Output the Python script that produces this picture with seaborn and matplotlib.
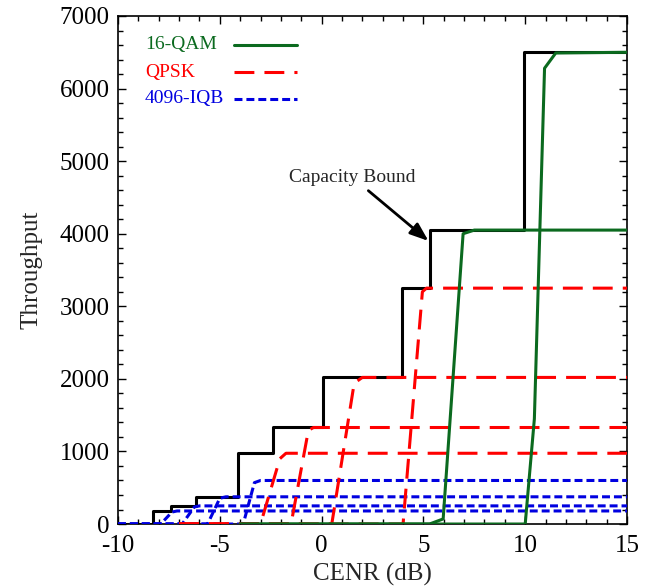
import matplotlib
matplotlib.use("Agg")
import matplotlib.pyplot as plt
import seaborn as sns
from matplotlib.ticker import MultipleLocator

# capacity bound staircase (drawn with steps-post)
cap_x = [-10, -8.3, -7.4, -6.15, -4.1, -2.4, 0.05, 3.95, 5.3, 9.95, 15]
cap_y = [0, 180, 250, 375, 975, 1330, 2020, 3250, 4050, 6500, 6500]

# 4096-IQB curves
iqb_x = [[-10, -7.9, -7.35, -7.1, 15],
         [-10, -6.85, -6.25, -6.0, 15],
         [-10, -5.6, -5.0, -4.7, 15],
         [-10, -3.85, -3.3, -3.0, 15]]
iqb_y = [[0, 0, 165, 180, 180],
         [0, 0, 235, 250, 250],
         [0, 0, 355, 375, 375],
         [0, 0, 570, 600, 600]]

# QPSK curves
qpsk_x = [[-7, -3.0, -2.05, -1.75, 15],
          [-7, -1.5, -0.65, -0.4, 15],
          [-7, 0.5, 1.6, 2.0, 15],
          [-7, 4.0, 4.95, 5.15, 15]]
qpsk_y = [[0, 0, 900, 975, 975],
          [0, 0, 1290, 1330, 1330],
          [0, 0, 1940, 2020, 2020],
          [0, 0, 3200, 3250, 3250]]

# 16-QAM curves
qam_x = [[-4, 5.3, 5.97, 6.95, 7.5, 15],
         [-4, 10.0, 10.45, 10.95, 11.5, 15]]
qam_y = [[0, 0, 70, 4000, 4050, 4050],
         [0, 0, 1450, 6280, 6490, 6500]]

series_names = ["16-QAM", "QPSK", "4096-IQB"]

green = "#0b6a1f"
red = "#ff0000"
blue = "#0000e0"
red_dash = (0, (6.5, 3.3))
blue_dash = (0, (2.6, 1.3))

sns.set_style("ticks")
plt.rcParams["font.family"] = ["Liberation Serif", "DejaVu Serif"]
plt.rcParams["axes.unicode_minus"] = False

fig = plt.figure(figsize=(6.53, 5.88), dpi=100)
ax = fig.add_axes([0.1807, 0.1088, 0.7795, 0.864])

lw = 2.2
sns.lineplot(x=cap_x, y=cap_y, ax=ax, color="black", lw=lw, estimator=None,
             sort=False, drawstyle="steps-post", zorder=2)
for xs, ys in zip(iqb_x, iqb_y):
    sns.lineplot(x=xs, y=ys, ax=ax, color=blue, lw=lw, estimator=None,
                 sort=False, linestyle=blue_dash, zorder=3)
for xs, ys in zip(qpsk_x, qpsk_y):
    sns.lineplot(x=xs, y=ys, ax=ax, color=red, lw=lw, estimator=None,
                 sort=False, linestyle=red_dash, zorder=4)
for xs, ys in zip(qam_x, qam_y):
    sns.lineplot(x=xs, y=ys, ax=ax, color=green, lw=lw, estimator=None,
                 sort=False, zorder=5)

ax.set_xlim(-10, 15)
ax.set_ylim(0, 7000)
ax.xaxis.set_major_locator(MultipleLocator(5))
ax.xaxis.set_minor_locator(MultipleLocator(1))
ax.yaxis.set_major_locator(MultipleLocator(1000))
ax.yaxis.set_minor_locator(MultipleLocator(200))
ax.tick_params(which="both", direction="in", top=True, right=True,
               labelsize=18, width=1, colors="black")
ax.tick_params(which="major", length=6)
ax.tick_params(axis="x", which="major", pad=8)
ax.tick_params(axis="y", which="major", pad=6)
ax.tick_params(which="minor", length=3.5)
for sp in ax.spines.values():
    sp.set_visible(True)
    sp.set_linewidth(1.2)
    sp.set_color("black")

ax.set_xlabel("CENR (dB)", fontsize=18, labelpad=4)
ax.set_ylabel("Throughput", fontsize=18, labelpad=12)

ax.annotate("Capacity Bound", xy=(5.25, 3900), xytext=(1.5, 4780),
            fontsize=14, ha="center", va="center",
            arrowprops=dict(arrowstyle="-|>,head_length=0.8,head_width=0.3",
                            lw=2, color="black", shrinkB=0))

# gnuplot-style key: left-aligned coloured text, sample line to the right
key_y = [0.943, 0.889, 0.837]
key_styles = [(green, "-"), (red, red_dash), (blue, blue_dash)]
for name, ky, (c, ls) in zip(series_names, key_y, key_styles):
    ax.text(0.053, ky, name, color=c, fontsize=14, ha="left", va="center",
            transform=ax.transAxes)
    ax.plot([0.228, 0.352], [ky, ky], color=c, lw=lw, linestyle=ls,
            transform=ax.transAxes)

fig.savefig("out.png", dpi=100)
